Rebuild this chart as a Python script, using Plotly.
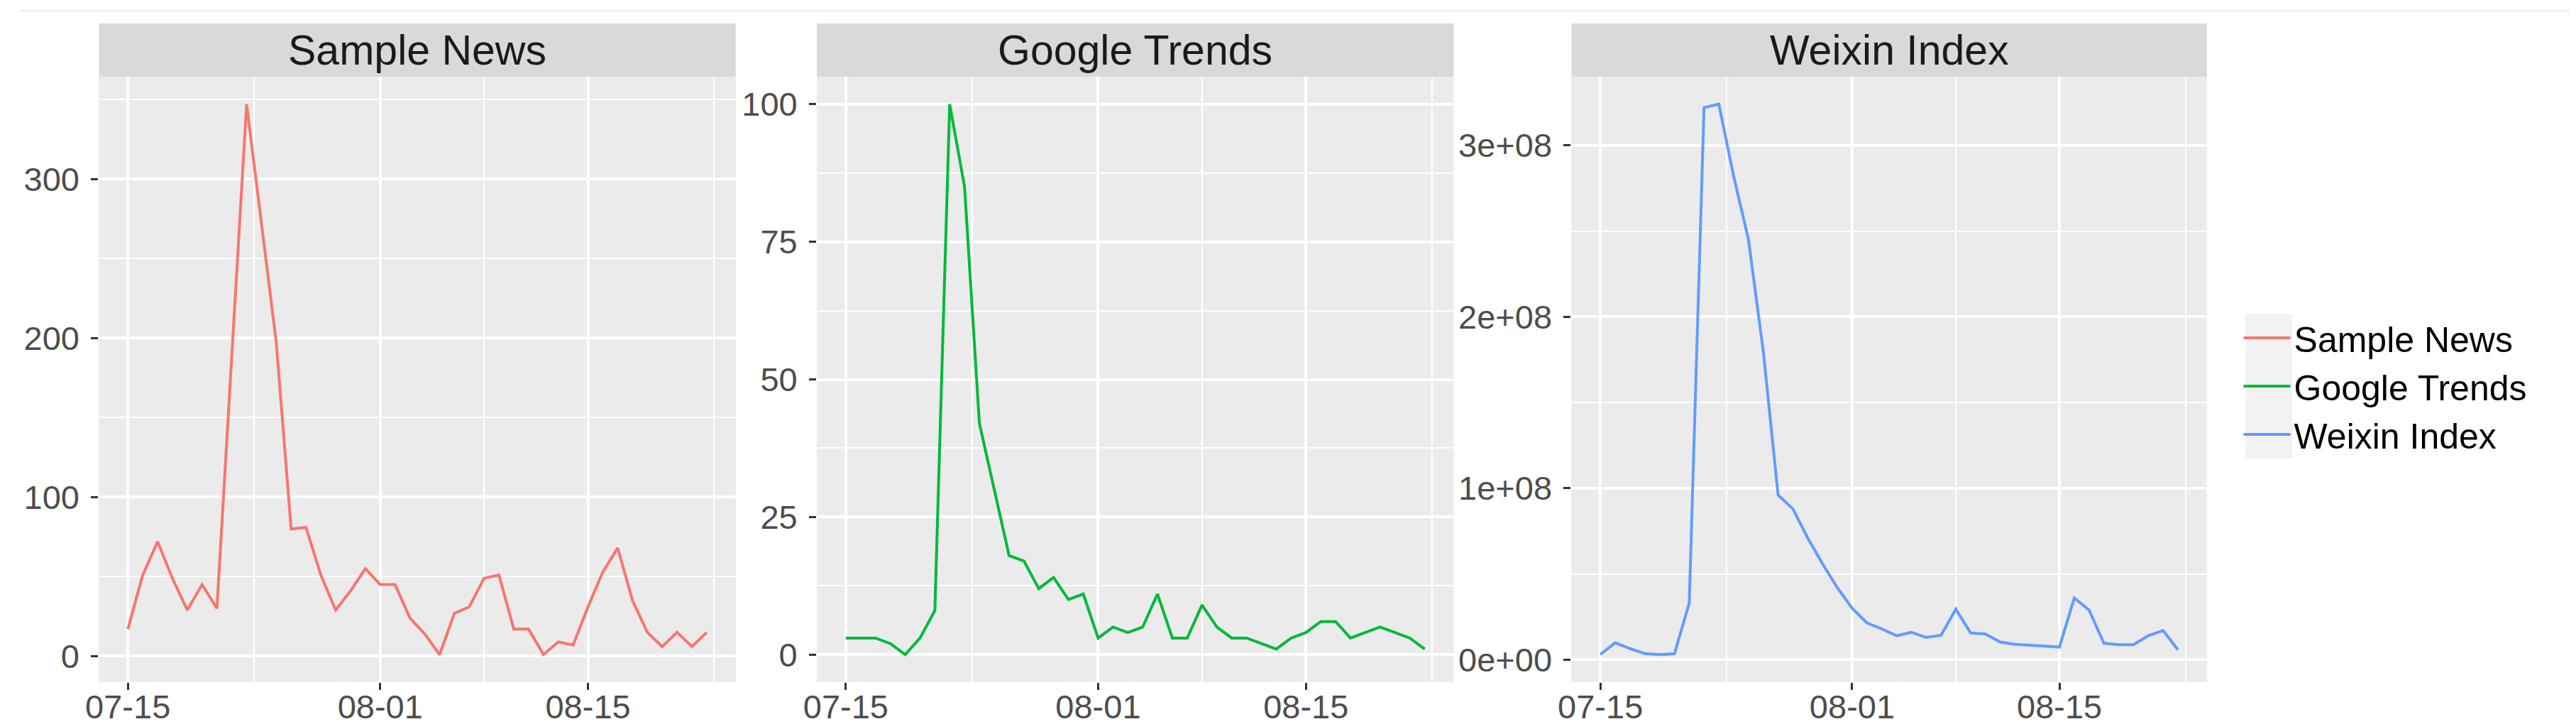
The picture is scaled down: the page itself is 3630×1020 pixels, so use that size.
import pandas as pd
import plotly.graph_objects as go

# daily data, 07-15 .. 08-23
dates = pd.date_range("2018-07-15", "2018-08-23", freq="D")

sample_news = [17, 51, 72, 49, 29, 45, 30, 188, 347, 272, 197, 80, 81, 51, 29, 41, 55, 45, 45, 24,
               14, 1, 27, 31, 49, 51, 17, 17, 1, 9, 7, 31, 53, 68, 35, 15, 6, 15, 6, 15]
google_trends = [3, 3, 3, 2, 0, 3, 8, 100, 85, 42, 30, 18, 17, 12, 14, 10, 11, 3, 5, 4,
                 5, 11, 3, 3, 9, 5, 3, 3, 2, 1, 3, 4, 6, 6, 3, 4, 5, 4, 3, 1]
weixin_index = [3.1e6, 9.9e6, 6.5e6, 3.6e6, 3.0e6, 3.5e6, 3.3e7, 3.22e8, 3.24e8, 2.82e8,
                2.45e8, 1.80e8, 9.6e7, 8.8e7, 7.1e7, 5.6e7, 4.2e7, 3.0e7, 2.15e7, 1.8e7,
                1.4e7, 1.6e7, 1.3e7, 1.43e7, 2.95e7, 1.56e7, 1.5e7, 1.03e7, 9.0e6, 8.3e6,
                8.0e6, 7.4e6, 3.6e7, 2.9e7, 9.6e6, 8.8e6, 8.8e6, 1.4e7, 1.7e7, 5.8e6]

names = ["Sample News", "Google Trends", "Weixin Index"]
colors = ["#F8766D", "#00BA38", "#619CFF"]
series = [sample_news, google_trends, weixin_index]

x_tickvals = ["2018-07-15", "2018-08-01", "2018-08-15"]
x_ticktext = ["07-15", "08-01", "08-15"]
x_minor = ["2018-07-23 12:00", "2018-08-08", "2018-08-23 12:00"]

y_tickvals = [[0, 100, 200, 300], [0, 25, 50, 75, 100], [0, 1e8, 2e8, 3e8]]
y_ticktext = [["0", "100", "200", "300"], ["0", "25", "50", "75", "100"],
              ["0e+00", "1e+08", "2e+08", "3e+08"]]
y_minor = [[50, 150, 250, 350], [12.5, 37.5, 62.5, 87.5], [5e7, 1.5e8, 2.5e8]]

# layout in pixels of the 3630x1020 page
W, H = 3630, 1020
panels_px = [(113, 1015), (1130, 2032), (2199, 3099)]
plot_top, plot_bottom, strip_top = 100, 953, 25

fig = go.Figure()
font = "Liberation Sans, Arial, sans-serif"

span = dates[-1] - dates[0]
x_range = [dates[0] - span * 0.05, dates[-1] + span * 0.05]

for i, (name, col, vals) in enumerate(zip(names, colors, series)):
    n = "" if i == 0 else str(i + 1)
    fig.add_trace(go.Scatter(x=dates, y=vals, mode="lines", name=name,
                             line=dict(color=col, width=4),
                             xaxis="x" + n, yaxis="y" + n))
    lo, hi = min(vals), max(vals)
    pad = (hi - lo) * 0.05
    x0, x1 = panels_px[i]
    common = dict(showline=False, zeroline=False, gridcolor="white", gridwidth=3.5,
                  ticks="outside", ticklen=10, tickwidth=3, tickcolor="#333333",
                  tickfont=dict(family=font, size=47, color="#4D4D4D"))
    fig.update_layout(**{
        "xaxis" + n: dict(domain=[x0 / W, x1 / W], anchor="y" + n, range=x_range,
                          tickmode="array", tickvals=x_tickvals, ticktext=x_ticktext,
                          minor=dict(tickmode="array", tickvals=x_minor, showgrid=True,
                                     gridcolor="white", gridwidth=1.8, ticks=""),
                          ticklabelstandoff=-16, **common),
        "yaxis" + n: dict(domain=[1 - plot_bottom / H, 1 - plot_top / H], anchor="x" + n,
                          range=[lo - pad, hi + pad],
                          tickmode="array", tickvals=y_tickvals[i], ticktext=y_ticktext[i],
                          minor=dict(tickmode="array", tickvals=y_minor[i], showgrid=True,
                                     gridcolor="white", gridwidth=1.8, ticks=""),
                          ticklabelstandoff=7, **common),
    })
    # panel background and facet strip
    fig.add_shape(type="rect", xref="paper", yref="paper", layer="below",
                  x0=x0 / W, x1=x1 / W, y0=1 - plot_bottom / H, y1=1 - plot_top / H,
                  fillcolor="#EBEBEB", line_width=0)
    fig.add_shape(type="rect", xref="paper", yref="paper",
                  x0=x0 / W, x1=x1 / W, y0=1 - plot_top / H, y1=1 - strip_top / H,
                  fillcolor="#D9D9D9", line_width=0)
    fig.add_annotation(xref="paper", yref="paper", x=(x0 + x1) / 2 / W,
                       y=1 - (plot_top + strip_top) / 2 / H, text=name, showarrow=False,
                       xanchor="center", yanchor="middle",
                       font=dict(family=font, size=59, color="#1A1A1A"))

# legend key background
fig.add_shape(type="rect", xref="paper", yref="paper", layer="below",
              x0=3154 / W, x1=3220 / W, y0=1 - 638 / H, y1=1 - 434 / H,
              fillcolor="#F2F2F2", line_width=0)
# faint rule at the top of the page
fig.add_shape(type="line", xref="paper", yref="paper", x0=0, x1=1,
              y0=1 - 7 / H, y1=1 - 7 / H, line=dict(color="#ECEFF4", width=3))

fig.update_layout(width=W, height=H, margin=dict(l=0, r=0, t=0, b=0),
                  paper_bgcolor="white", plot_bgcolor="#EBEBEB",
                  showlegend=True,
                  legend=dict(x=3146 / W, y=1 - 536 / H, xanchor="left", yanchor="middle",
                              bgcolor="rgba(0,0,0,0)", itemwidth=66, tracegroupgap=0,
                              font=dict(family=font, size=50, color="#000000")))

fig.write_html("out.html")
